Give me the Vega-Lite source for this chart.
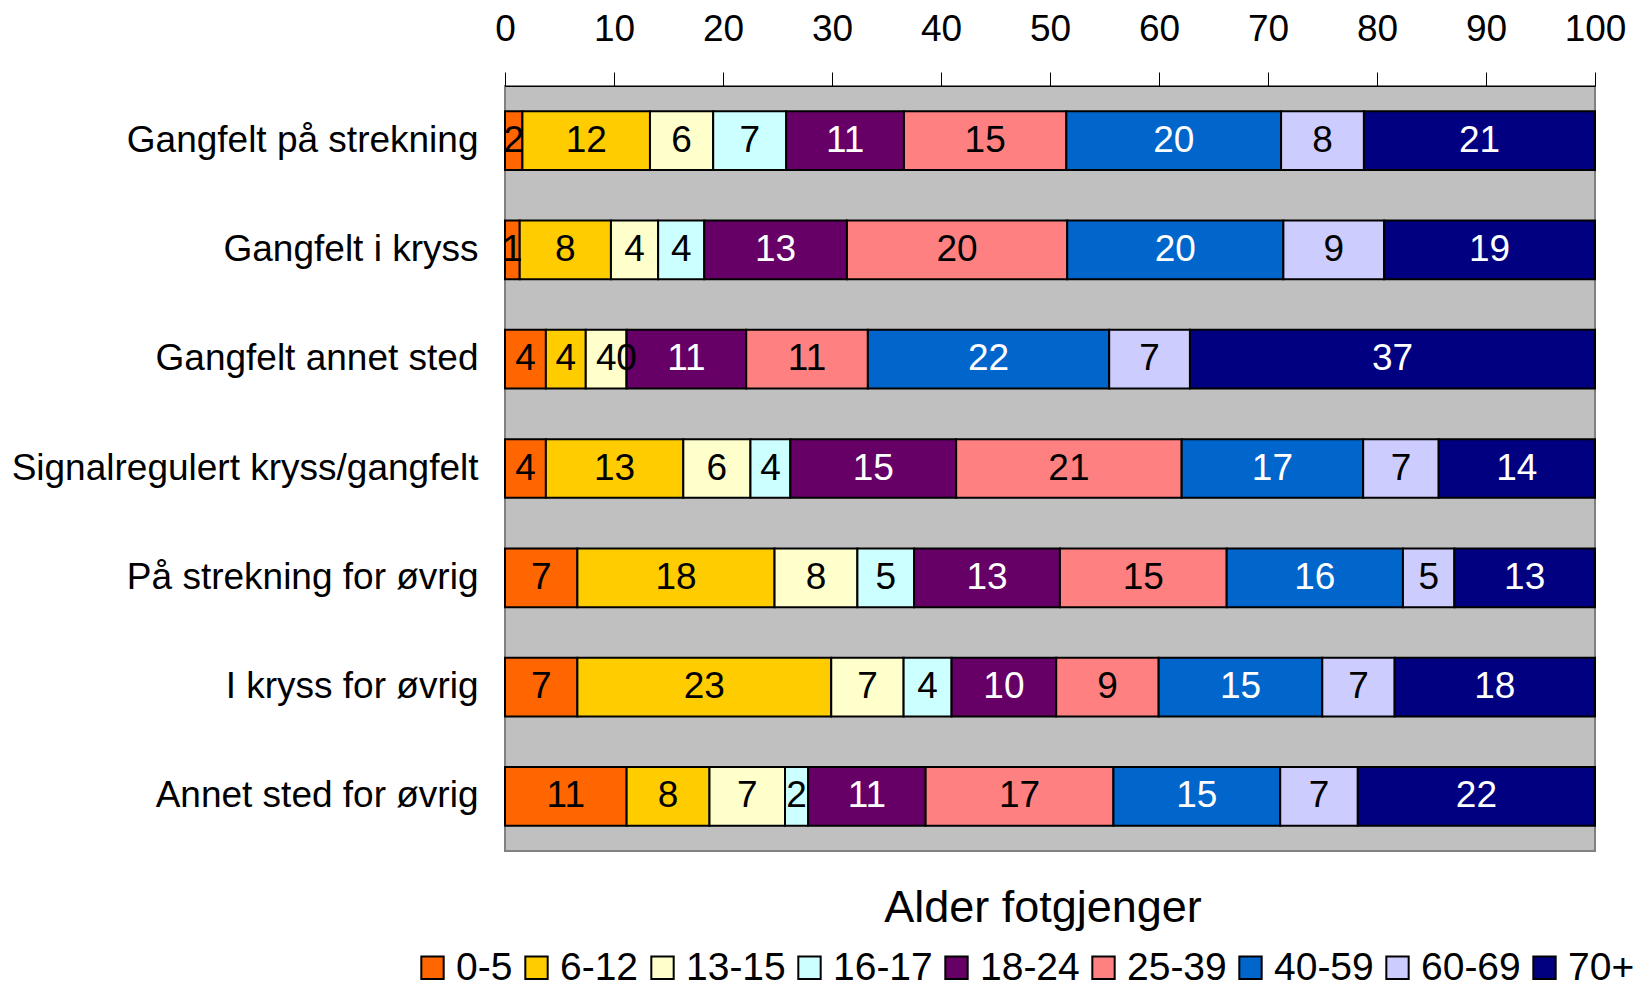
{
  "$schema": "https://vega.github.io/schema/vega-lite/v6.json",
  "width": 1090,
  "height": 765,
  "autosize": {"type": "none"},
  "padding": {"left": 505, "top": 86, "right": 49, "bottom": 138},
  "background": "white",
  "title": {
    "text": "Alder fotgjenger",
    "orient": "bottom",
    "anchor": "middle",
    "offset": -102,
    "fontSize": 45,
    "fontWeight": "normal",
    "color": "black",
    "baseline": "top",
    "dx": -7
  },
  "config": {
    "font": "Liberation Sans",
    "view": {"fill": "#C0C0C0", "stroke": "#808080", "strokeWidth": 2}
  },
  "data": {
    "values": [
      {"r": "Gangfelt på strekning", "g": "0-5", "k": 1, "v": 1.6},
      {"r": "Gangfelt på strekning", "g": "6-12", "k": 2, "v": 11.7},
      {"r": "Gangfelt på strekning", "g": "13-15", "k": 3, "v": 5.8},
      {"r": "Gangfelt på strekning", "g": "16-17", "k": 4, "v": 6.7},
      {"r": "Gangfelt på strekning", "g": "18-24", "k": 5, "v": 10.8},
      {"r": "Gangfelt på strekning", "g": "25-39", "k": 6, "v": 14.9},
      {"r": "Gangfelt på strekning", "g": "40-59", "k": 7, "v": 19.7},
      {"r": "Gangfelt på strekning", "g": "60-69", "k": 8, "v": 7.6},
      {"r": "Gangfelt på strekning", "g": "70+", "k": 9, "v": 21.2},
      {"r": "Gangfelt i kryss", "g": "0-5", "k": 1, "v": 1.35},
      {"r": "Gangfelt i kryss", "g": "6-12", "k": 2, "v": 8.37},
      {"r": "Gangfelt i kryss", "g": "13-15", "k": 3, "v": 4.33},
      {"r": "Gangfelt i kryss", "g": "16-17", "k": 4, "v": 4.23},
      {"r": "Gangfelt i kryss", "g": "18-24", "k": 5, "v": 13.09},
      {"r": "Gangfelt i kryss", "g": "25-39", "k": 6, "v": 20.21},
      {"r": "Gangfelt i kryss", "g": "40-59", "k": 7, "v": 19.83},
      {"r": "Gangfelt i kryss", "g": "60-69", "k": 8, "v": 9.24},
      {"r": "Gangfelt i kryss", "g": "70+", "k": 9, "v": 19.35},
      {"r": "Gangfelt annet sted", "g": "0-5", "k": 1, "v": 3.75},
      {"r": "Gangfelt annet sted", "g": "6-12", "k": 2, "v": 3.66},
      {"r": "Gangfelt annet sted", "g": "13-15", "k": 3, "v": 3.75},
      {"r": "Gangfelt annet sted", "g": "16-17", "k": 4, "v": 0},
      {"r": "Gangfelt annet sted", "g": "18-24", "k": 5, "v": 10.97},
      {"r": "Gangfelt annet sted", "g": "25-39", "k": 6, "v": 11.16},
      {"r": "Gangfelt annet sted", "g": "40-59", "k": 7, "v": 22.14},
      {"r": "Gangfelt annet sted", "g": "60-69", "k": 8, "v": 7.41},
      {"r": "Gangfelt annet sted", "g": "70+", "k": 9, "v": 37.16},
      {"r": "Signalregulert kryss/gangfelt", "g": "0-5", "k": 1, "v": 3.75},
      {"r": "Signalregulert kryss/gangfelt", "g": "6-12", "k": 2, "v": 12.61},
      {"r": "Signalregulert kryss/gangfelt", "g": "13-15", "k": 3, "v": 6.16},
      {"r": "Signalregulert kryss/gangfelt", "g": "16-17", "k": 4, "v": 3.66},
      {"r": "Signalregulert kryss/gangfelt", "g": "18-24", "k": 5, "v": 15.21},
      {"r": "Signalregulert kryss/gangfelt", "g": "25-39", "k": 6, "v": 20.69},
      {"r": "Signalregulert kryss/gangfelt", "g": "40-59", "k": 7, "v": 16.65},
      {"r": "Signalregulert kryss/gangfelt", "g": "60-69", "k": 8, "v": 6.93},
      {"r": "Signalregulert kryss/gangfelt", "g": "70+", "k": 9, "v": 14.34},
      {"r": "På strekning for øvrig", "g": "0-5", "k": 1, "v": 6.64},
      {"r": "På strekning for øvrig", "g": "6-12", "k": 2, "v": 18.09},
      {"r": "På strekning for øvrig", "g": "13-15", "k": 3, "v": 7.6},
      {"r": "På strekning for øvrig", "g": "16-17", "k": 4, "v": 5.2},
      {"r": "På strekning for øvrig", "g": "18-24", "k": 5, "v": 13.38},
      {"r": "På strekning for øvrig", "g": "25-39", "k": 6, "v": 15.3},
      {"r": "På strekning for øvrig", "g": "40-59", "k": 7, "v": 16.17},
      {"r": "På strekning for øvrig", "g": "60-69", "k": 8, "v": 4.72},
      {"r": "På strekning for øvrig", "g": "70+", "k": 9, "v": 12.9},
      {"r": "I kryss for øvrig", "g": "0-5", "k": 1, "v": 6.64},
      {"r": "I kryss for øvrig", "g": "6-12", "k": 2, "v": 23.29},
      {"r": "I kryss for øvrig", "g": "13-15", "k": 3, "v": 6.64},
      {"r": "I kryss for øvrig", "g": "16-17", "k": 4, "v": 4.4},
      {"r": "I kryss for øvrig", "g": "18-24", "k": 5, "v": 9.6},
      {"r": "I kryss for øvrig", "g": "25-39", "k": 6, "v": 9.4},
      {"r": "I kryss for øvrig", "g": "40-59", "k": 7, "v": 15.01},
      {"r": "I kryss for øvrig", "g": "60-69", "k": 8, "v": 6.64},
      {"r": "I kryss for øvrig", "g": "70+", "k": 9, "v": 18.38},
      {"r": "Annet sted for øvrig", "g": "0-5", "k": 1, "v": 11.16},
      {"r": "Annet sted for øvrig", "g": "6-12", "k": 2, "v": 7.6},
      {"r": "Annet sted for øvrig", "g": "13-15", "k": 3, "v": 6.93},
      {"r": "Annet sted for øvrig", "g": "16-17", "k": 4, "v": 2.12},
      {"r": "Annet sted for øvrig", "g": "18-24", "k": 5, "v": 10.78},
      {"r": "Annet sted for øvrig", "g": "25-39", "k": 6, "v": 17.23},
      {"r": "Annet sted for øvrig", "g": "40-59", "k": 7, "v": 15.3},
      {"r": "Annet sted for øvrig", "g": "60-69", "k": 8, "v": 7.12},
      {"r": "Annet sted for øvrig", "g": "70+", "k": 9, "v": 21.76}
    ]
  },
  "transform": [
    {"stack": "v", "groupby": ["r"], "sort": [{"field": "k", "order": "ascending"}], "as": ["x0", "x1"]},
    {"calculate": "(datum.x0 + datum.x1) / 2", "as": "xm"}
  ],
  "encoding": {
    "y": {
      "field": "r",
      "type": "nominal",
      "sort": null,
      "scale": {"paddingInner": 0.463, "paddingOuter": 0.2315},
      "axis": {
        "title": null,
        "ticks": false,
        "domain": false,
        "labelFontSize": 37,
        "labelColor": "black",
        "labelPadding": 27,
        "labelLimit": 600
      }
    }
  },
  "layer": [
    {
      "mark": {"type": "bar", "stroke": "black", "strokeWidth": 2, "opacity": 1},
      "encoding": {
        "x": {
          "field": "x0",
          "type": "quantitative",
          "scale": {"domain": [0, 100], "nice": false},
          "axis": {
            "orient": "top",
            "title": null,
            "values": [0, 10, 20, 30, 40, 50, 60, 70, 80, 90, 100],
            "grid": false,
            "tickSize": 14,
            "tickColor": "black",
            "domainColor": "black",
            "domainWidth": 1,
            "labelFontSize": 37,
            "labelColor": "black",
            "labelPadding": 24,
            "labelFlush": false
          }
        },
        "x2": {"field": "x1"},
        "color": {
          "field": "g",
          "type": "nominal",
          "scale": {
            "domain": ["0-5", "6-12", "13-15", "16-17", "18-24", "25-39", "40-59", "60-69", "70+"],
            "range": ["#FF6600", "#FFCC00", "#FFFFCC", "#CCFFFF", "#660066", "#FF8080", "#0066CC", "#CCCCFF", "#000080"]
          },
          "legend": {
            "title": null,
            "orient": "none",
            "direction": "horizontal",
            "columns": 9,
            "legendX": -92,
            "legendY": 862,
            "labelFontSize": 39,
            "labelColor": "black",
            "labelOffset": 4,
            "columnPadding": 4,
            "labelLimit": 300,
            "symbolType": "square",
            "symbolSize": 500,
            "symbolStrokeColor": "black",
            "symbolStrokeWidth": 2,
            "symbolOpacity": 1
          }
        }
      }
    },
    {
      "mark": {"type": "text", "fontSize": 37, "baseline": "middle", "align": "center"},
      "encoding": {
        "x": {"field": "xm", "type": "quantitative"},
        "text": {"field": "v", "type": "quantitative", "format": ".0f"},
        "color": {
          "condition": {"test": "indexof(['18-24','40-59','70+'], datum.g) >= 0", "value": "white"},
          "value": "black"
        }
      }
    }
  ]
}
